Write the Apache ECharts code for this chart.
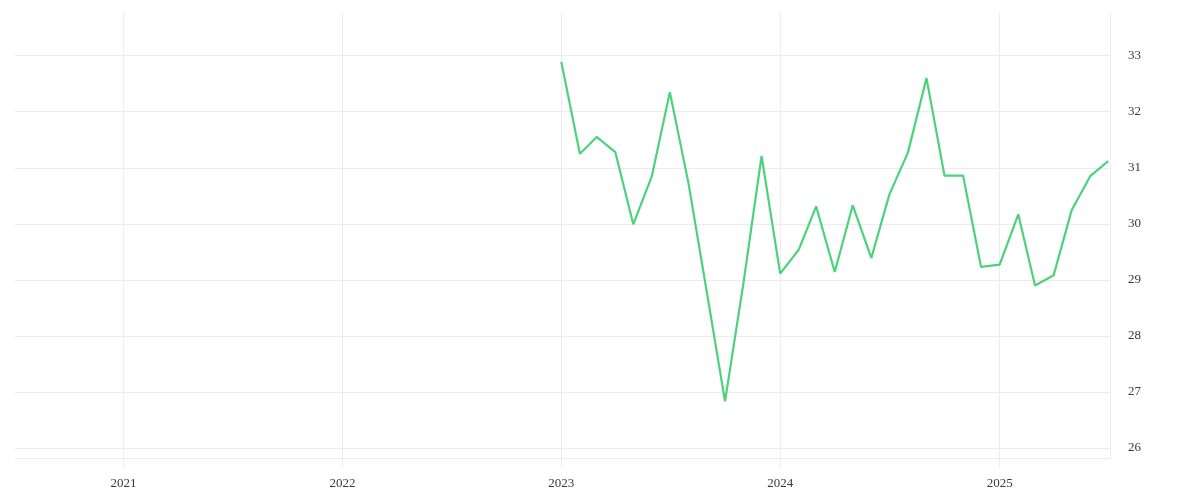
<!DOCTYPE html>
<html>
<head>
<meta charset="utf-8">
<script src="https://cdn.jsdelivr.net/npm/echarts@6/dist/echarts.min.js"></script>
<style>
  html, body { margin: 0; padding: 0; background: #fff; }
  #main { width: 1200px; height: 500px; }
</style>
</head>
<body>
<div id="main"></div>
<script>
// monthly dates, 2023-01 .. 2025-07
var months = [
  '2023-01-01', '2023-02-01', '2023-03-01', '2023-04-01', '2023-05-01', '2023-06-01',
  '2023-07-01', '2023-08-01', '2023-09-01', '2023-10-01', '2023-11-01', '2023-12-01',
  '2024-01-01', '2024-02-01', '2024-03-01', '2024-04-01', '2024-05-01', '2024-06-01',
  '2024-07-01', '2024-08-01', '2024-09-01', '2024-10-01', '2024-11-01', '2024-12-01',
  '2025-01-01', '2025-02-01', '2025-03-01', '2025-04-01', '2025-05-01', '2025-06-01',
  '2025-07-01'
];
var values = [
  32.89, 31.25, 31.55, 31.28, 29.99, 30.85,
  32.35, 30.73, 28.76, 26.83, 28.96, 31.21,
  29.11, 29.54, 30.31, 29.14, 30.33, 29.39,
  30.52, 31.27, 32.60, 30.86, 30.86, 29.23,
  29.27, 30.17, 28.90, 29.08, 30.24, 30.85,
  31.12
];
var yTicks = [26, 27, 28, 29, 30, 31, 32, 33];
var xTicks = ['2021-01-01', '2022-01-01', '2023-01-01', '2024-01-01', '2025-01-01'];

var gridColor = '#ececec';
var textColor = '#3a3a3a';
var font = 'Liberation Serif';

// dates -> ms (UTC)
var xTickMs = xTicks.map(function (d) { return Date.parse(d); });

var chart = echarts.init(document.getElementById('main'));
chart.setOption({
  animation: false,
  grid: { left: 15, right: 90, top: 12, bottom: 42, containLabel: false },
  xAxis: {
    type: 'value',
    min: Date.parse('2020-07-04'),
    max: Date.parse('2025-07-04'),
    axisLine: { show: true, lineStyle: { color: gridColor, width: 1 } },
    axisTick: { show: true, length: 10, customValues: xTickMs, lineStyle: { color: gridColor } },
    splitLine: { show: true, lineStyle: { color: gridColor, width: 1 } },
    axisLabel: {
      customValues: xTickMs,
      formatter: function (v) { return String(new Date(v).getUTCFullYear()); },
      color: textColor, fontFamily: font, fontSize: 13, margin: 19
    }
  },
  yAxis: {
    type: 'value',
    position: 'right',
    min: 25.82,
    max: 33.78,
    axisLine: { show: true, lineStyle: { color: gridColor, width: 1 } },
    axisTick: { show: false, customValues: yTicks },
    splitLine: { show: true, lineStyle: { color: gridColor, width: 1 } },
    axisLabel: {
      customValues: yTicks,
      color: textColor, fontFamily: font, fontSize: 13, margin: 18,
      padding: [5, 0, 0, 0]
    }
  },
  series: [{
    type: 'line',
    data: months.map(function (m, i) { return [Date.parse(m), values[i]]; }),
    showSymbol: false,
    lineStyle: { color: '#4cd27b', width: 2.2 },
    itemStyle: { color: '#4cd27b' }
  }]
});
</script>
</body>
</html>
